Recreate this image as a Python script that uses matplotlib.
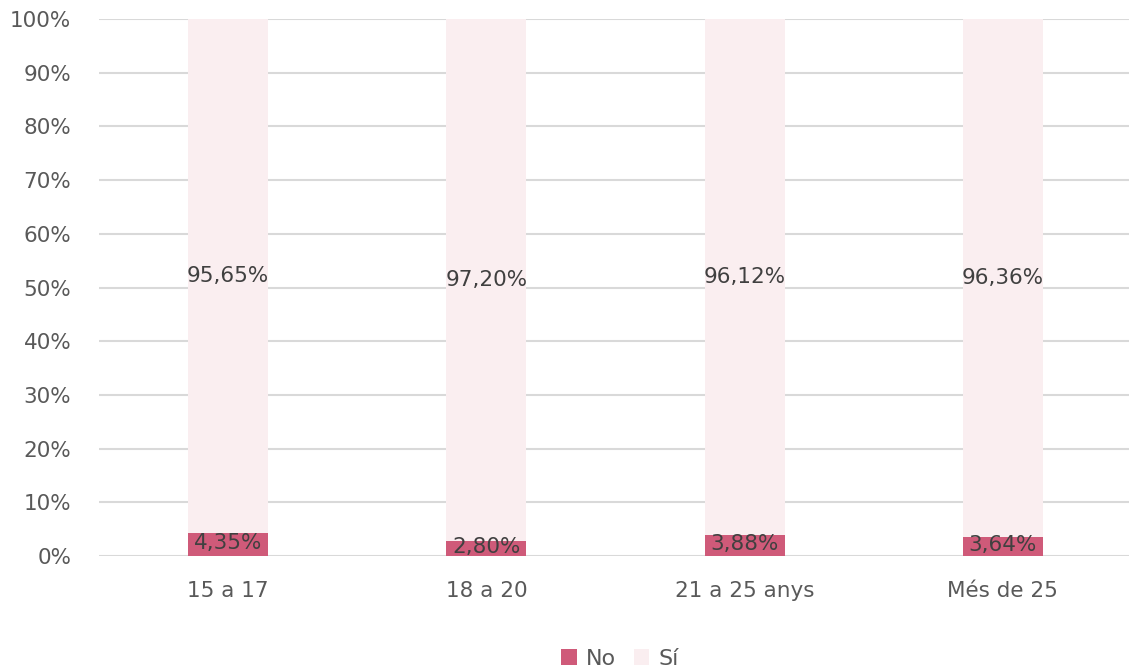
import matplotlib.pyplot as plt
import numpy as np

plt.rcParams['font.family'] = ['DejaVu Sans']

categories = ["15 a 17", "18 a 20", "21 a 25 anys", "Més de 25"]
no_vals = [4.35, 2.80, 3.88, 3.64]
si_vals = [95.65, 97.20, 96.12, 96.36]

col_no = '#cf5a79'
col_si = '#faeef0'
txt = '#404040'

fig = plt.figure(figsize=(11.29, 6.7), dpi=100)
ax = fig.add_axes([0.0877, 0.170, 0.915, 0.8016])

x = np.arange(len(categories))
w = 0.31
ax.bar(x, no_vals, w, color=col_no, label='No', zorder=3)
ax.bar(x, si_vals, w, bottom=no_vals, color=col_si, label='Sí', zorder=3)

def fmt(v):
    return f"{v:.2f}%".replace('.', ',')

for i in range(len(categories)):
    ax.text(x[i], no_vals[i] / 2 + 0.3, fmt(no_vals[i]), ha='center', va='center',
            fontsize=15.5, color=txt, zorder=4)
    ax.text(x[i], no_vals[i] + si_vals[i] / 2, fmt(si_vals[i]), ha='center',
            va='center', fontsize=15.5, color=txt, zorder=4)

ax.set_xlim(-0.5, len(categories) - 0.5)
ax.set_ylim(0, 100)
ax.set_yticks(range(0, 101, 10))
ax.set_yticklabels([f"{t}%" for t in range(0, 101, 10)])
ax.set_xticks(x)
ax.set_xticklabels(categories)
ax.grid(axis='y', color='#d9d9d9', linewidth=1.5, zorder=0)
for s in ax.spines.values():
    s.set_visible(False)
ax.tick_params(axis='both', length=0, labelsize=15.5, labelcolor='#595959')
ax.tick_params(axis='x', pad=18)
ax.tick_params(axis='y', pad=20)

handles, labels = ax.get_legend_handles_labels()
fig.legend(handles, labels, loc='center', bbox_to_anchor=(0.549, 0.017), ncol=2,
           frameon=False, fontsize=16, handlelength=0.7, handleheight=0.7,
           handletextpad=0.4, columnspacing=0.8, labelcolor='#595959')

fig.savefig('out.png', dpi=100)
